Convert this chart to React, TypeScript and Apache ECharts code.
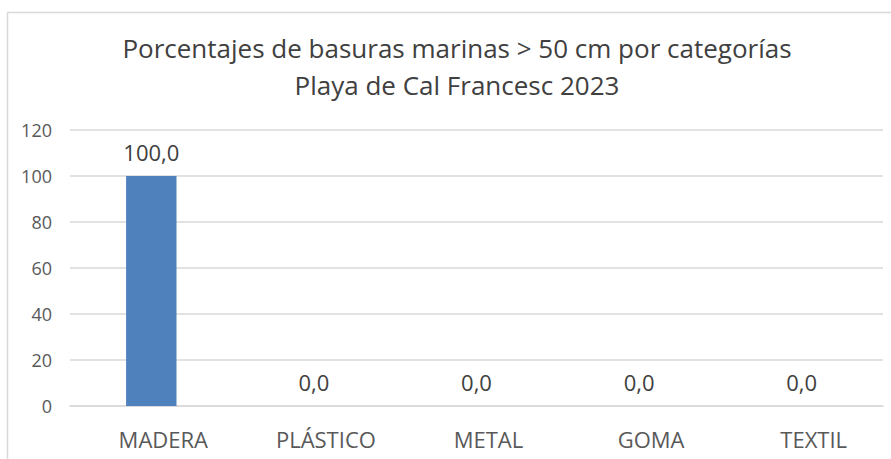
import React, { useEffect, useRef } from "react";
import * as echarts from "echarts";

const categories = ["MADERA", "PLÁSTICO", "METAL", "GOMA", "TEXTIL"];
const values = [100.0, 0.0, 0.0, 0.0, 0.0];
const titleLines = ["Porcentajes de basuras marinas > 50 cm por categorías", "Playa de Cal Francesc 2023"];
const yMin = 0;
const yMax = 120;
const yInterval = 20;

const FONT = "'Open Sans', 'Liberation Sans', sans-serif";

export default function App() {
  const ref = useRef<HTMLDivElement>(null);
  useEffect(() => {
    if (!ref.current) return;
    const chart = echarts.init(ref.current, undefined, { renderer: "svg" });
    chart.setOption({
      animation: false,
      backgroundColor: "#ffffff",
      textStyle: { fontFamily: FONT },
      graphic: [
        {
          type: "rect",
          shape: { x: 7.5, y: 12.5, width: 900, height: 500 },
          style: { fill: "none", stroke: "#d9d9d9", lineWidth: 1.5 },
          silent: true,
        },
        ...titleLines.map((t, i) => ({
          type: "text",
          x: 457,
          y: 48 + i * 37,
          silent: true,
          style: {
            text: t,
            fill: "#404040",
            font: `26px ${FONT}`,
            textAlign: "center",
            textVerticalAlign: "middle",
          },
        })),
      ],
      grid: { left: 70, right: 8, top: 130, bottom: 53, containLabel: false },
      xAxis: {
        type: "category",
        data: categories,
        axisLine: { show: true, lineStyle: { color: "#d9d9d9", width: 1.5 } },
        axisTick: { show: false },
        axisLabel: {
          color: "#595959",
          fontSize: 22,
          margin: 22,
          padding: [0, 0, 0, 24],
          fontFamily: FONT,
        },
      },
      yAxis: {
        type: "value",
        min: yMin,
        max: yMax,
        interval: yInterval,
        axisLine: { show: false },
        axisTick: { show: false },
        splitLine: { lineStyle: { color: "#d9d9d9", width: 1.5 } },
        axisLabel: { color: "#595959", fontSize: 18, margin: 18, fontFamily: FONT },
      },
      series: [
        {
          type: "bar",
          data: values,
          barWidth: "31%",
          itemStyle: { color: "#4f81bd" },
          label: {
            show: true,
            position: "top",
            distance: 13,
            color: "#404040",
            fontSize: 22,
            fontFamily: FONT,
            formatter: (p: any) => Number(p.value).toFixed(1).replace(".", ","),
          },
        },
      ],
    });
    return () => chart.dispose();
  }, []);
  return (
    <div
      ref={ref}
      style={{ position: "fixed", left: 0, top: 0, width: 891, height: 459 }}
    />
  );
}
